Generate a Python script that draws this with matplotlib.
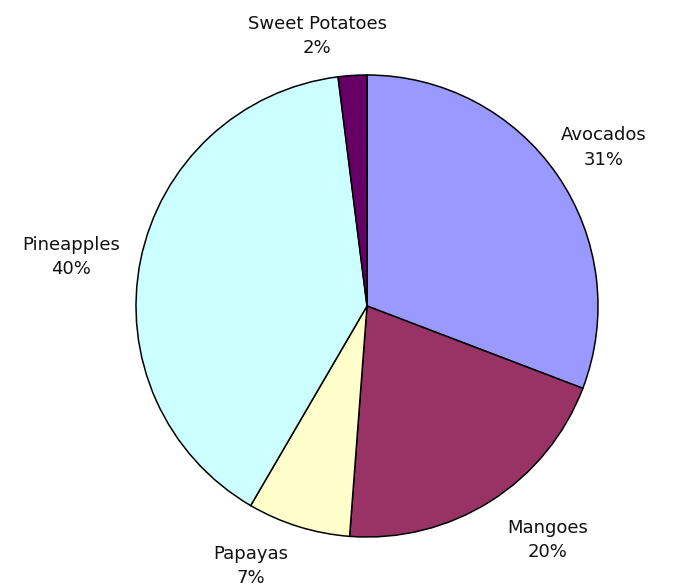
import numpy as np
import matplotlib.pyplot as plt

# fruit shares, clockwise from 12 o'clock
fruits = ['Avocados', 'Mangoes', 'Papayas', 'Pineapples', 'Sweet Potatoes']
shares = [30.8, 20.4, 7.2, 39.6, 2.0]
pct_labels = ['31%', '20%', '7%', '40%', '2%']
colors = ['#9999FF', '#993366', '#FFFFCC', '#CCFFFF', '#660066']

fig = plt.figure(figsize=(6.74, 5.85), dpi=100)
ax = fig.add_axes([0, 0, 1, 1])

cx, cy, r = 367, 279, 231
wedges, _ = ax.pie(shares, colors=colors, startangle=90, counterclock=False,
                   center=(cx, cy), radius=r, frame=True,
                   wedgeprops=dict(edgecolor='black', linewidth=1.1))
ax.set_xlim(0, 674)
ax.set_ylim(0, 585)
ax.set_aspect('equal')
ax.axis('off')

# label distance (in radii) plus nudges in px, Excel-like placement
lab_dist = [1.24, 1.2, 1.18, 1.35, 1.17]
nudge_x = [1, 32, -35, 10, -33]
nudge_y = [-4, 0, 0, -13, 0]
for w, name, pct, d, dx, dy in zip(wedges, fruits, pct_labels, lab_dist, nudge_x, nudge_y):
    mid = np.deg2rad((w.theta1 + w.theta2) / 2)
    x = cx + d * r * np.cos(mid) + dx
    y = cy + d * r * np.sin(mid) + dy
    ax.text(x, y, f'{name}\n{pct}', ha='center', va='center', fontsize=13,
            color='#111111', linespacing=1.45)

fig.savefig('out.png', dpi=100)
